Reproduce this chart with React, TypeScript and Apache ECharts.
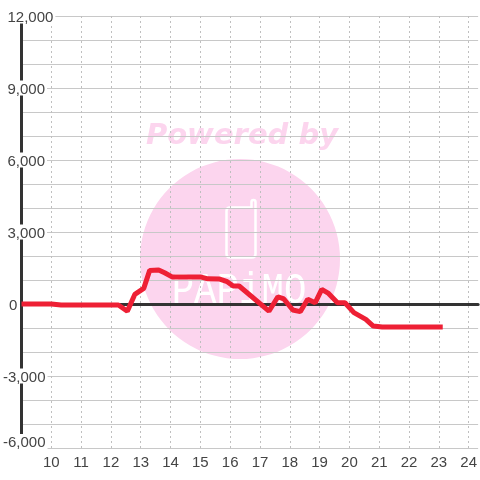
import React, { useEffect, useRef } from "react";
import * as echarts from "echarts";

const hours = [9, 10, 10.33, 12.25, 12.55, 12.8, 13.1, 13.3, 13.6, 13.8, 14.05, 15, 15.25, 15.65, 15.9, 16.1, 16.3, 17.3, 17.6, 17.8, 18.1, 18.35, 18.6, 18.85, 19.07, 19.3, 19.6, 19.85, 20.15, 20.55, 20.8, 21.1, 23.13];
const values = [0, 0, -40, -40, -300, 400, 650, 1400, 1420, 1300, 1130, 1130, 1050, 1040, 930, 750, 750, -300, 300, 210, -250, -320, 200, 50, 610, 440, 50, 50, -360, -640, -920, -960, -960];
const labelledValues = [12000, 9000, 6000, 3000, 0, -3000, -6000];
const watermarkTop = "Powered by";
const watermarkBrand = "PAPiMO";

const phonePath =
  "M230 207.5 H251.5 V202 a2 2 0 0 1 4 0 V254 Q255.5 257.5 252 257.5 H230 Q226.5 257.5 226.5 254 V211 Q226.5 207.5 230 207.5 Z";
echarts.graphic.registerShape("phoneLogo", echarts.graphic.extendPath(phonePath, {}) as any);

const FONT = "Liberation Sans";
const INK = "#444444";
const PINK = "#fcd5ee";

function axisText(v: number): string {
  if (!labelledValues.includes(v)) return "";
  const txt = v.toLocaleString("en-US");
  if (v === 0) return `{zero|${txt}}`;
  if (v === -6000) return `{low|${txt}}`;
  return v < 0 ? `{neg|${txt}}` : `{pos|${txt}}`;
}

const tokenBase = { color: INK, fontFamily: FONT, fontSize: 15, backgroundColor: "#fff" };

export default function App() {
  const ref = useRef<HTMLDivElement>(null);
  useEffect(() => {
    const chart = echarts.init(ref.current!, undefined, { renderer: "svg" });
    chart.setOption({
      animation: false,
      grid: { left: 20.5, top: 16, width: 459.5, height: 432, containLabel: false },
      xAxis: [
        {
          type: "value",
          min: 9,
          max: 24.317,
          interval: 1,
          axisLine: { show: false, onZero: false },
          axisTick: { show: false },
          axisLabel: {
            showMinLabel: false,
            showMaxLabel: false,
            margin: 6,
            color: INK,
            fontFamily: FONT,
            fontSize: 15,
            hideOverlap: false,
          },
          splitLine: {
            show: true,
            showMinLine: false,
            showMaxLine: false,
            lineStyle: { color: "#bfbfbf", width: 1, type: [2, 3] },
          },
        },
        {
          type: "value",
          min: 9,
          max: 24.317,
          interval: 1,
          axisLine: { show: true, onZero: true, lineStyle: { color: "#333333", width: 3 } },
          axisTick: { show: false },
          axisLabel: { show: false },
          splitLine: { show: false },
        },
      ],
      yAxis: {
        type: "value",
        min: -6000,
        max: 12000,
        interval: 1000,
        axisLine: { show: true, onZero: false, lineStyle: { color: "#333333", width: 3 } },
        axisTick: { show: false },
        axisLabel: {
          align: "left",
          margin: 18.5,
          formatter: axisText,
          rich: {
            pos: { ...tokenBase, padding: [0, 2, 0, 4.5] },
            neg: { ...tokenBase, padding: [0, 2, 0, 0] },
            low: { ...tokenBase, padding: [0, 2, 13, 0] },
            zero: { ...tokenBase, backgroundColor: "transparent", padding: [0, 0, 0, 6] },
          },
        },
        splitLine: { show: true, lineStyle: { color: "#c8c8c8", width: 1 } },
      },
      graphic: [
        { type: "circle", z: -10, shape: { cx: 240, cy: 259, r: 100 }, style: { fill: PINK } },
        {
          type: "text",
          z: -10,
          x: 242,
          y: 134,
          style: {
            text: watermarkTop,
            fill: PINK,
            font: 'italic bold 29px "DejaVu Sans"',
            align: "center",
            verticalAlign: "middle",
          },
        },
        {
          type: "phoneLogo",
          z: -9,
          x: 0,
          y: 0,
          style: { fill: "none", stroke: "#ffffff", lineWidth: 2.5 },
        },
        {
          type: "text",
          z: -9,
          x: 239,
          y: 291,
          scaleX: 0.85,
          style: {
            text: watermarkBrand,
            fill: "#ffffff",
            font: '44px "Liberation Mono"',
            align: "center",
            verticalAlign: "middle",
          },
        },
      ],
      series: [
        {
          type: "line",
          xAxisIndex: 0,
          data: hours.map((h, i) => [h, values[i]]),
          symbol: "none",
          lineStyle: { color: "#ee2035", width: 5 },
          silent: true,
        },
      ],
    });
    return () => chart.dispose();
  }, []);
  return <div ref={ref} style={{ width: 480, height: 480, position: "fixed", left: 0, top: 0 }} />;
}
